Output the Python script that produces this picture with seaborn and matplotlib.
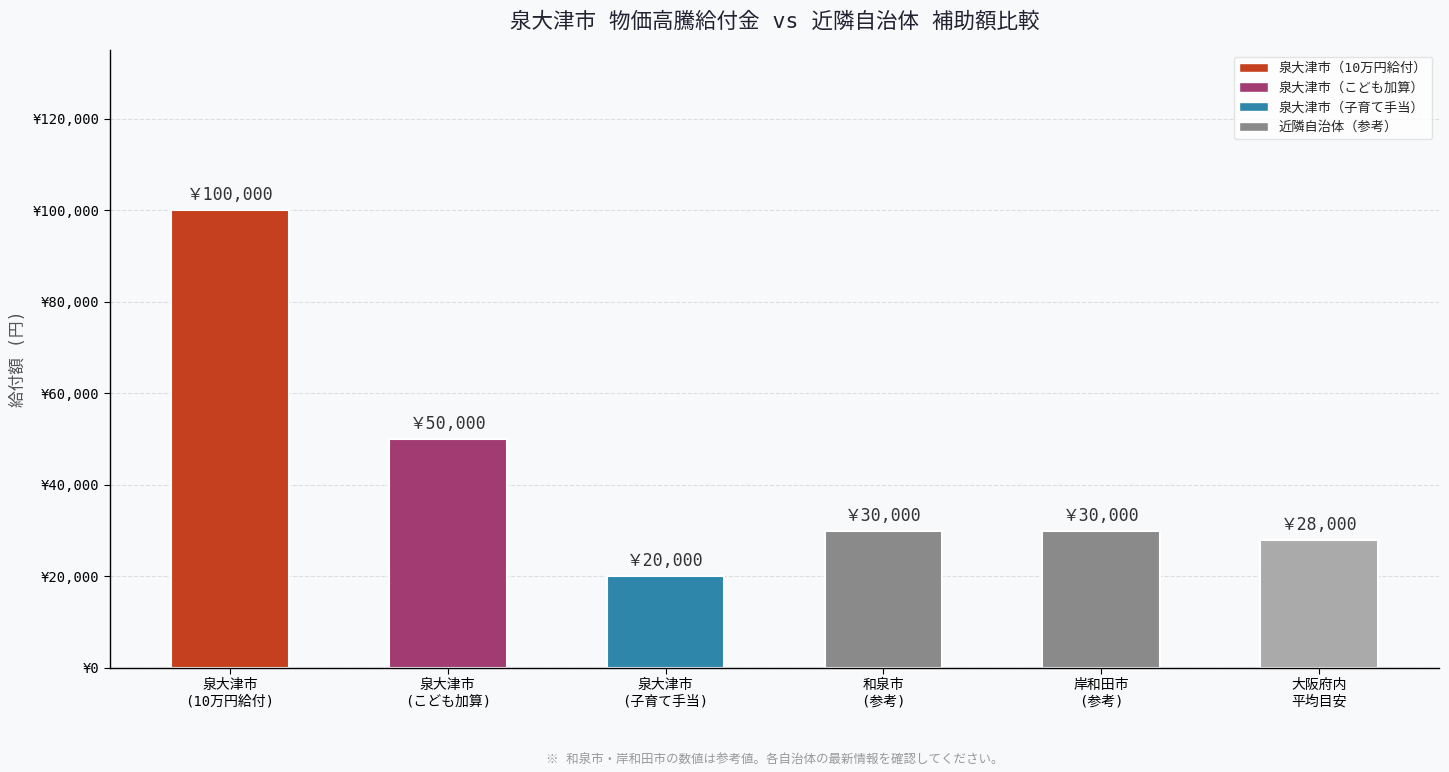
import matplotlib
matplotlib.use("Agg")
import matplotlib.pyplot as plt
import matplotlib.ticker as mticker
from matplotlib.patches import Patch
import seaborn as sns
import pandas as pd

# データ
labels = ['泉大津市\n(10万円給付)', '泉大津市\n(こども加算)', '泉大津市\n(子育て手当)',
          '和泉市\n(参考)', '岸和田市\n(参考)', '大阪府内\n平均目安']
amounts = [100000, 50000, 20000, 30000, 30000, 28000]
bar_colors = ['#C5401E', '#A23B72', '#2E86AB', '#8A8A8A', '#8A8A8A', '#AAAAAA']
legend_labels = ['泉大津市（10万円給付）', '泉大津市（こども加算）', '泉大津市（子育て手当）', '近隣自治体（参考）']
legend_colors = ['#C5401E', '#A23B72', '#2E86AB', '#8A8A8A']

sns.set_style('white')
plt.rcParams['font.family'] = ['DejaVu Sans Mono', 'Noto Sans CJK JP']

bg = '#F8F9FB'
fig, ax = plt.subplots(figsize=(14.49, 7.72), dpi=100)
fig.patch.set_facecolor(bg)
ax.set_facecolor(bg)

df = pd.DataFrame({'label': labels, 'amount': amounts})
sns.barplot(data=df, x='label', y='amount', hue='label', palette=bar_colors, saturation=1,
            width=0.54, edgecolor='white', linewidth=1.5, legend=False, ax=ax)

for i, v in enumerate(amounts):
    ax.text(i, v + 1300, f'￥{v:,}', ha='center', va='bottom', fontsize=12, color='#333333')

ax.set_xlim(-0.55, 5.55)
ax.set_ylim(0, 135000)
ax.yaxis.set_major_locator(mticker.MultipleLocator(20000))
ax.yaxis.set_major_formatter(mticker.FuncFormatter(lambda x, p: f'¥{int(x):,}'))
ax.grid(axis='y', linestyle='--', linewidth=0.8, color='#DDDDDD')
ax.set_axisbelow(True)
for s in ['top', 'right']:
    ax.spines[s].set_visible(False)
for s in ['left', 'bottom']:
    ax.spines[s].set_color('black')
    ax.spines[s].set_linewidth(1.0)
ax.tick_params(axis='both', labelsize=10, length=4, left=True, bottom=True, colors='black')
ax.set_xlabel('')
ax.set_ylabel('給付額 (円)', fontsize=12, color='#555555')
ax.set_title('泉大津市 物価高騰給付金 vs 近隣自治体 補助額比較', fontsize=15.5, color='#222233', pad=16)

handles = [Patch(facecolor=c, label=l) for c, l in zip(legend_colors, legend_labels)]
ax.legend(handles=handles, loc='upper right', fontsize=9.5, frameon=True, facecolor='white',
          edgecolor='#DDDDDD', handlelength=2.2, borderaxespad=0.5)

fig.text(0.5345, 0.012, '※ 和泉市・岸和田市の数値は参考値。各自治体の最新情報を確認してください。',
         ha='center', fontsize=9, color='#999999')

plt.subplots_adjust(left=0.076, right=0.993, top=0.935, bottom=0.135)
plt.savefig('out.png', dpi=100, facecolor=bg)
